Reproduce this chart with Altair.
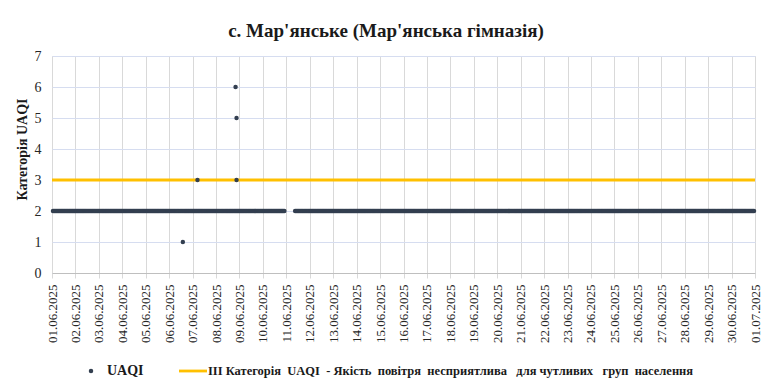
import altair as alt
import pandas as pd

# ---- data ----
title_text = "с. Мар'янське (Мар'янська гімназія)"
y_title = "Категорія UAQI"
series_name = "UAQI"
threshold_name = "III\u00a0Категорія\u00a0\u00a0UAQI\u00a0\u00a0-\u00a0Якість\u00a0\u00a0повітря\u00a0\u00a0несприятлива\u00a0\u00a0\u00a0для\u00a0чутливих\u00a0\u00a0\u00a0груп\u00a0\u00a0населення"

first_hour = "2025-06-01 01:00"
last_hour = "2025-06-30 23:00"
gap_start = "2025-06-10 23:00"   # first missing hour
gap_end = "2025-06-11 08:00"     # last missing hour
base_level = 2                   # hourly UAQI category for almost all hours
extra_hours = ["2025-06-06 14:00", "2025-06-07 05:00", "2025-06-08 20:00",
               "2025-06-08 21:00", "2025-06-08 21:00"]
extra_values = [1, 3, 6, 5, 3]
threshold_value = [3]

tick_days = list(range(1, 31))  # June days, plus 1 July
y_ticks = [0, 1, 2, 3, 4, 5, 6, 7]

# ---- build table ----
hours = pd.date_range(first_hour, last_hour, freq="h")
hours = hours[(hours < pd.Timestamp(gap_start)) | (hours > pd.Timestamp(gap_end))]
base = pd.DataFrame({"t": hours, "v": base_level})
extra = pd.DataFrame({"t": pd.to_datetime(extra_hours), "v": extra_values})
df = pd.concat([base, extra], ignore_index=True)
df["t"] = df["t"].dt.strftime("%Y-%m-%dT%H:%M:%S")
thr = pd.DataFrame({"v": threshold_value})

tick_values = [alt.DateTime(year=2025, month=6, date=d) for d in tick_days] + \
              [alt.DateTime(year=2025, month=7, date=1)]

FONT = "Liberation Serif, serif"
W, H = 703, 217

x_scale = alt.Scale(domain=[alt.DateTime(year=2025, month=6, date=1),
                            alt.DateTime(year=2025, month=7, date=1)], nice=False)
y_scale = alt.Scale(domain=[0, 7], nice=False)


def y_axis():
    return alt.Axis(values=y_ticks, labelFont=FONT, labelFontSize=14,
                    labelColor="#262626", labelPadding=11, domain=False, ticks=False,
                    labelOverlap=False,
                    grid=True, gridColor="#d6ddf0", title=y_title, titleFont=FONT,
                    titleFontSize=14, titleFontWeight="bold", titleColor="#1a1a1a",
                    titleX=-30, titleY=93, titleAngle=270, titleAlign="center",
                    titleBaseline="middle")


x_axis = alt.Axis(values=tick_values, format="%d.%m.%Y", labelAngle=-90,
                  labelAlign="right", labelBaseline="middle", labelFont=FONT,
                  labelFontSize=13, labelColor="#262626", labelPadding=6,
                  grid=True, gridColor="#d9d9d9", domainColor="#bfbfbf",
                  tickColor="#d9d9d9", tickSize=5, title=None, labelOverlap=False)

rule = alt.Chart(thr).mark_rule(color="#ffc000", strokeWidth=2.8).encode(
    y=alt.Y("v:Q", scale=y_scale, axis=y_axis())
)

points = alt.Chart(df).mark_circle(size=20, color="#333f50", opacity=1).encode(
    x=alt.X("t:T", scale=x_scale, axis=x_axis),
    y=alt.Y("v:Q", scale=y_scale, axis=y_axis()),
)

one = pd.DataFrame({"k": [0]})
title_mark = alt.Chart(one).mark_text(text=title_text, font=FONT, fontSize=19,
                                      fontWeight="bold", color="#1a1a1a",
                                      baseline="middle", align="center").encode(
    x=alt.value(334), y=alt.value(-25))

leg_dot = alt.Chart(one).mark_circle(size=20, color="#333f50", opacity=1).encode(
    x=alt.value(39), y=alt.value(315))
leg_txt1 = alt.Chart(one).mark_text(text=series_name, font=FONT, fontSize=14,
                                    fontWeight="bold", color="#1a1a1a",
                                    align="left", baseline="middle").encode(
    x=alt.value(55), y=alt.value(315))
leg_line = alt.Chart(one).mark_rule(color="#ffc000", strokeWidth=2.8).encode(
    x=alt.value(127), x2=alt.value(155), y=alt.value(315))
leg_txt2 = alt.Chart(one).mark_text(text=threshold_name, font=FONT, fontSize=12.5,
                                    fontWeight="bold", color="#1a1a1a",
                                    align="left", baseline="middle").encode(
    x=alt.value(156), y=alt.value(315))

chart = alt.layer(rule, points, title_mark, leg_dot, leg_txt1, leg_line, leg_txt2).properties(
    width=W, height=H,
    autosize=alt.AutoSizeParams(type="none"),
    padding={"left": 44, "top": 48, "right": 9, "bottom": 111},
).configure_view(stroke=None).configure(background="white")

chart.save("out.html", embed_options={"renderer": "svg", "actions": False})
